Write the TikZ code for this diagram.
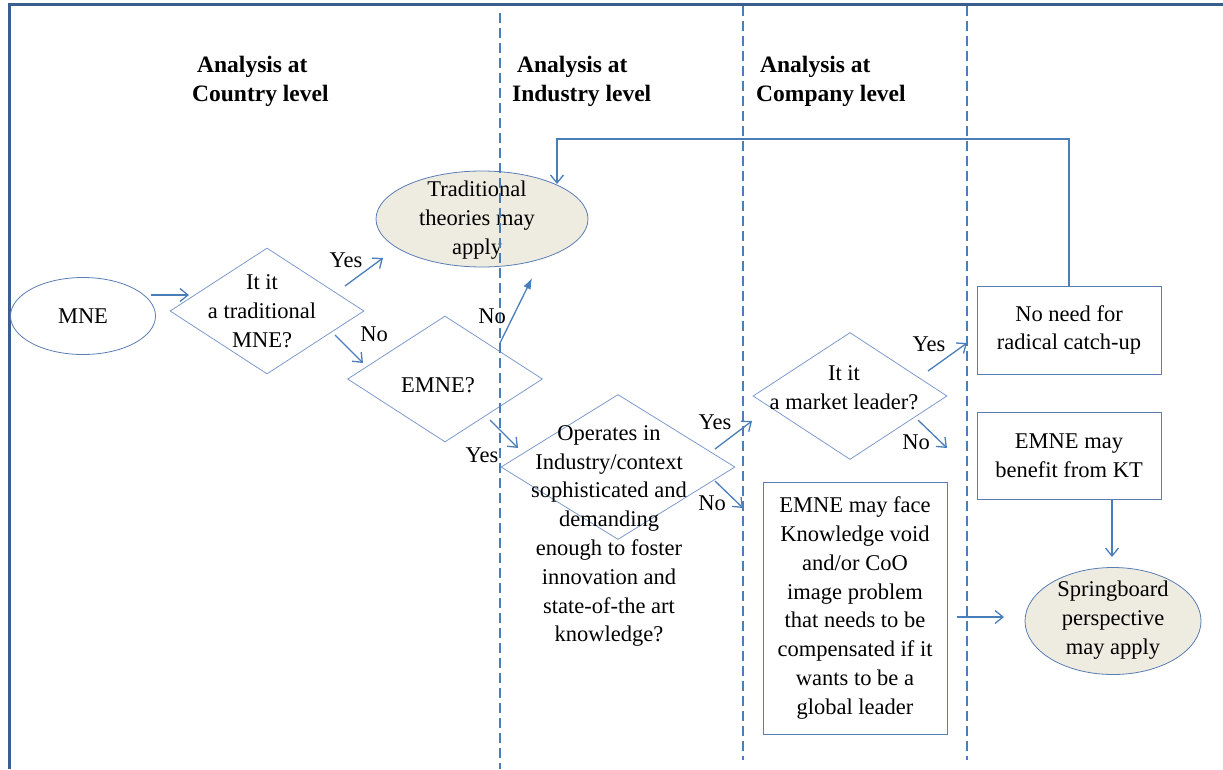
\documentclass[tikz,border=0pt]{standalone}
\usepackage{fontspec}
\setmainfont{LiberationSerif}[Extension=.ttf, UprightFont=*-Regular, BoldFont=*-Bold, ItalicFont=*-Italic, BoldItalicFont=*-BoldItalic]
\usetikzlibrary{shapes.geometric,arrows.meta}
\definecolor{framec}{HTML}{3B5E91}
\definecolor{arrc}{HTML}{4A7EBB}
\definecolor{shp}{HTML}{5A7DB3}
\definecolor{dia}{HTML}{7D9ACB}
\definecolor{fillc}{HTML}{EEECE1}
\begin{document}
\begin{tikzpicture}[x=1pt,y=-1pt,
  txt/.style={font=\rmfamily\fontsize{22.5}{28.8}\selectfont, align=center, inner sep=0pt},
  hdr/.style={font=\rmfamily\fontsize{23.5}{29}\selectfont\bfseries, align=left, inner sep=0pt, anchor=west},
  lab/.style={font=\rmfamily\fontsize{22.5}{28.8}\selectfont, inner sep=0pt},
  dec/.style={diamond, draw=dia, line width=0.8pt, inner sep=0pt},
  ell/.style={ellipse, draw=shp, line width=0.8pt, inner sep=0pt, font=\rmfamily\fontsize{22.5}{28.8}\selectfont},
  box/.style={rectangle, draw=shp, line width=0.8pt, inner sep=0pt, font=\rmfamily\fontsize{22.5}{28.8}\selectfont, align=center},
  arr/.style={draw=arrc, line width=1.3pt, -{Straight Barb[length=8pt,width=13pt]}},
  farr/.style={draw=arrc, line width=1.3pt, -{Latex[length=11pt,width=8pt]}},
  lane/.style={draw=arrc, line width=1.3pt, dash pattern=on 10pt off 5pt}
]
\useasboundingbox (0,0) rectangle (1223,769);
% frame
\draw[framec, line width=3.2pt] (1223,4.5) -- (9.5,4.5) -- (9.5,769);

% headers
\node[hdr] (h1) at (192,81) {\hspace*{5pt}Analysis at\\Country level};
\node[hdr] (h2) at (512,81) {\hspace*{5pt}Analysis at\\Industry level};
\node[hdr] (h3) at (756,81) {\hspace*{4pt}Analysis at\\Company level};

% shapes
\node[ell, minimum width=145, minimum height=77] (mne) at (83,316) {MNE};
\node[dec, minimum width=194, minimum height=126] (d1) at (267,311) {};
\node[txt] (d1t) at (262,311) {It it\\a traditional\\MNE?};
\node[ell, fill=fillc, minimum width=212, minimum height=96] (trad) at (482,219) {};
\node[txt] (tradt) at (477,220) {Traditional\\theories may\\apply};
\node[dec, minimum width=195, minimum height=126] (d2) at (445,379) {};
\node[txt] (d2t) at (438,385) {EMNE?};
\node[dec, minimum width=234, minimum height=145] (d3) at (618,467) {};
\node[txt] (d3t) at (609,536) {Operates in\\Industry/context\\sophisticated and\\demanding\\enough to foster\\innovation and\\state-of-the art\\knowledge?};
\node[dec, minimum width=194, minimum height=127] (d4) at (850,396) {};
\node[txt] (d4t) at (844,388) {It it\\a market leader?};
\node[box, minimum width=184, minimum height=88] (nnc) at (1069,330) {No need for\\radical catch-up};
\node[box, minimum width=184, minimum height=87] (kt) at (1069,456) {EMNE may\\benefit from KT};
\node[box, minimum width=184, minimum height=252] (face) at (855,608) {EMNE may face\\Knowledge void\\and/or CoO\\image problem\\that needs to be\\compensated if it\\wants to be a\\global leader};
\node[ell, fill=fillc, minimum width=176, minimum height=107] (spring) at (1113,621) {};
\node[txt] (springt) at (1113,620) {Springboard\\perspective\\may apply};

% lanes
\coordinate (l1t) at (500,13);  \coordinate (l1b) at (500,769);
\coordinate (l2t) at (743,6);   \coordinate (l2b) at (743,760);
\coordinate (l3t) at (967,6);   \coordinate (l3b) at (967,760);
\draw[lane] (l1t) -- (l1b);
\draw[lane] (l2t) -- (l2b);
\draw[lane] (l3t) -- (l3b);

% arrow end points
\coordinate (a1s) at (151,295);  \coordinate (a1e) at (189,295);
\coordinate (y1s) at (345,286);  \coordinate (y1e) at (383,258);
\coordinate (n1s) at (335,335);  \coordinate (n1e) at (363,363);
\coordinate (n2s) at (500,343);  \coordinate (n2e) at (532,278);
\coordinate (y2s) at (490,420);  \coordinate (y2e) at (518,448);
\coordinate (y3s) at (715,449);  \coordinate (y3e) at (752,421);
\coordinate (n3s) at (715,481);  \coordinate (n3e) at (743,508);
\coordinate (y4s) at (928,371);  \coordinate (y4e) at (967,343);
\coordinate (n4s) at (918,420);  \coordinate (n4e) at (947,448);
\coordinate (kte) at (1112,557);
\coordinate (fs) at (957,617);   \coordinate (fe) at (1004,617);
\coordinate (fbc) at (557,139);  \coordinate (fbe) at (557,184);

\draw[arr] (a1s) -- (a1e);
\draw[arr] (y1s) -- (y1e);
\draw[arr] (n1s) -- (n1e);
\draw[farr] (n2s) -- (n2e);
\draw[arr] (y2s) -- (y2e);
\draw[arr] (y3s) -- (y3e);
\draw[arr] (n3s) -- (n3e);
\draw[arr] (y4s) -- (y4e);
\draw[arr] (n4s) -- (n4e);
\draw[arr] (kt.south -| kte) -- (kte);
\draw[arr] (fs) -- (fe);
\draw[arr] (nnc.north) |- (fbc) -- (fbe);

% labels
\node[lab] (ly1) at (346,260) {Yes};
\node[lab] (ln1) at (374,334) {No};
\node[lab] (ln2) at (492,316) {No};
\node[lab] (ly2) at (482,455) {Yes};
\node[lab] (ly3) at (715,422) {Yes};
\node[lab] (ln3) at (712,503) {No};
\node[lab] (ly4) at (929,344) {Yes};
\node[lab] (ln4) at (916,442) {No};
\end{tikzpicture}
\end{document}
